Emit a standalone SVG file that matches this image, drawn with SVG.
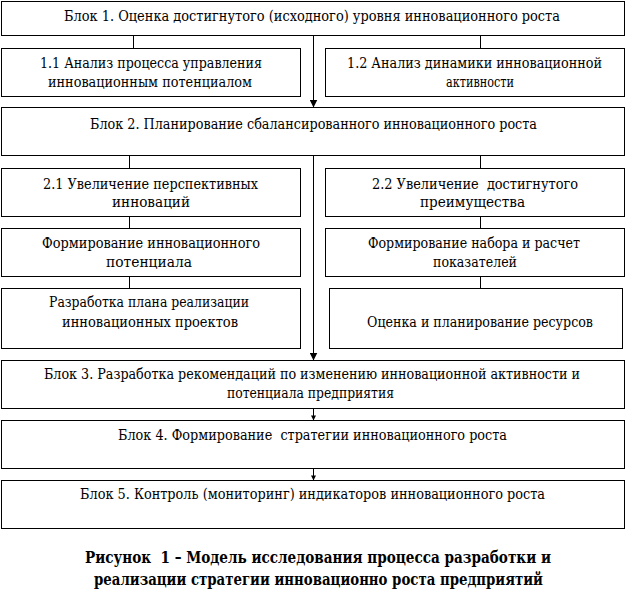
<svg xmlns="http://www.w3.org/2000/svg" width="630" height="593" viewBox="0 0 630 593">
<defs>
<style>
.box{fill:#fff;stroke:#000;stroke-width:1}
.t{font-family:"DejaVu Serif Condensed","DejaVu Serif","Liberation Serif",serif;font-stretch:condensed;font-size:14px;fill:#000;text-anchor:middle}
.cap{font-family:"DejaVu Serif Condensed","DejaVu Serif","Liberation Serif",serif;font-stretch:condensed;font-size:16px;font-weight:bold;fill:#000;text-anchor:middle}
.ln{stroke:#000;stroke-width:1;fill:none}
</style>
<marker id="ah" viewBox="0 0 8 8" refX="8" refY="4" markerWidth="8" markerHeight="8" markerUnits="userSpaceOnUse" orient="auto">
<path d="M0,0 L8,4 L0,8 Z" fill="#000"/>
</marker>
<marker id="ahs" viewBox="0 0 6 6" refX="6" refY="3" markerWidth="6" markerHeight="5" markerUnits="userSpaceOnUse" orient="auto">
<path d="M0,0 L6,3 L0,6 Z" fill="#000"/>
</marker>
</defs>
<rect width="630" height="593" fill="#fff"/>
<g id="connectors">
<line class="ln" x1="313.5" y1="35.5" x2="313.5" y2="107.5" marker-end="url(#ah)"/>
<line class="ln" x1="133.5" y1="35.5" x2="133.5" y2="48.5"/>
<line class="ln" x1="480.5" y1="35.5" x2="480.5" y2="48.5"/>
<line class="ln" x1="313.5" y1="155.5" x2="313.5" y2="360.5" marker-end="url(#ah)"/>
<line class="ln" x1="129.5" y1="155.5" x2="129.5" y2="168.5"/>
<line class="ln" x1="480.5" y1="155.5" x2="480.5" y2="168.5"/>
<line class="ln" x1="129.5" y1="216.5" x2="129.5" y2="228.5"/>
<line class="ln" x1="480.5" y1="216.5" x2="480.5" y2="228.5"/>
<line class="ln" x1="129.5" y1="276.5" x2="129.5" y2="288.5"/>
<line class="ln" x1="480.5" y1="276.5" x2="480.5" y2="288.5"/>
<line class="ln" x1="313.5" y1="408.5" x2="313.5" y2="420.5" marker-end="url(#ahs)"/>
<line class="ln" x1="313.5" y1="468.5" x2="313.5" y2="480.5" marker-end="url(#ahs)"/>
</g>
<g id="block1">
<rect class="box" x="1.5" y="1.5" width="623" height="34"/>
<text class="t" x="312" y="21" textLength="496" lengthAdjust="spacingAndGlyphs">Блок 1. Оценка достигнутого (исходного) уровня инновационного роста</text>
</g>
<g id="box11">
<rect class="box" x="1.5" y="48.5" width="299" height="48"/>
<text class="t" x="151" y="68" textLength="222" lengthAdjust="spacingAndGlyphs">1.1 Анализ процесса управления</text>
<text class="t" x="150" y="87" textLength="204" lengthAdjust="spacingAndGlyphs">инновационным потенциалом</text>
</g>
<g id="box12">
<rect class="box" x="325.5" y="48.5" width="299" height="48"/>
<text class="t" x="474.5" y="68" textLength="255" lengthAdjust="spacingAndGlyphs">1.2 Анализ динамики инновационной</text>
<text class="t" x="480" y="87" textLength="68" lengthAdjust="spacingAndGlyphs">активности</text>
</g>
<g id="block2">
<rect class="box" x="1.5" y="107.5" width="623" height="48"/>
<text class="t" x="313.5" y="129" textLength="447" lengthAdjust="spacingAndGlyphs">Блок 2. Планирование сбалансированного инновационного роста</text>
</g>
<g id="box21">
<rect class="box" x="1.5" y="168.5" width="299" height="48"/>
<text class="t" x="150.5" y="189" textLength="215" lengthAdjust="spacingAndGlyphs">2.1 Увеличение перспективных</text>
<text class="t" x="151" y="207" textLength="78" lengthAdjust="spacingAndGlyphs">инноваций</text>
</g>
<g id="box22">
<rect class="box" x="325.5" y="168.5" width="299" height="48"/>
<text class="t" x="475" y="189" xml:space="preserve" textLength="206" lengthAdjust="spacingAndGlyphs">2.2 Увеличение  достигнутого</text>
<text class="t" x="472.5" y="207" textLength="105" lengthAdjust="spacingAndGlyphs">преимущества</text>
</g>
<g id="box_form_pot">
<rect class="box" x="1.5" y="228.5" width="299" height="48"/>
<text class="t" x="151" y="248" textLength="218" lengthAdjust="spacingAndGlyphs">Формирование инновационного</text>
<text class="t" x="149" y="267" textLength="86" lengthAdjust="spacingAndGlyphs">потенциала</text>
</g>
<g id="box_form_nab">
<rect class="box" x="325.5" y="228.5" width="299" height="48"/>
<text class="t" x="474" y="248" textLength="212" lengthAdjust="spacingAndGlyphs">Формирование набора и расчет</text>
<text class="t" x="475" y="267" textLength="84" lengthAdjust="spacingAndGlyphs">показателей</text>
</g>
<g id="box_razr">
<rect class="box" x="1.5" y="288.5" width="299" height="60"/>
<text class="t" x="149" y="307" textLength="200" lengthAdjust="spacingAndGlyphs">Разработка плана реализации</text>
<text class="t" x="150" y="327" textLength="176" lengthAdjust="spacingAndGlyphs">инновационных проектов</text>
</g>
<g id="box_ocenka">
<rect class="box" x="329.5" y="288.5" width="293" height="60"/>
<text class="t" x="480" y="327" textLength="226" lengthAdjust="spacingAndGlyphs">Оценка и планирование ресурсов</text>
</g>
<g id="block3">
<rect class="box" x="1.5" y="360.5" width="623" height="48"/>
<text class="t" x="312" y="379" textLength="536" lengthAdjust="spacingAndGlyphs">Блок 3. Разработка рекомендаций по изменению инновационной активности и</text>
<text class="t" x="310.5" y="398" textLength="167" lengthAdjust="spacingAndGlyphs">потенциала предприятия</text>
</g>
<g id="block4">
<rect class="box" x="1.5" y="420.5" width="623" height="48"/>
<text class="t" x="312.5" y="440" xml:space="preserve" textLength="389" lengthAdjust="spacingAndGlyphs">Блок 4. Формирование  стратегии инновационного роста</text>
</g>
<g id="block5">
<rect class="box" x="1.5" y="480.5" width="623" height="48"/>
<text class="t" x="312.5" y="499" textLength="465" lengthAdjust="spacingAndGlyphs">Блок 5. Контроль (мониторинг) индикаторов инновационного роста</text>
</g>
<g id="caption">
<text class="cap" x="318" y="563" xml:space="preserve" textLength="466" lengthAdjust="spacingAndGlyphs">Рисунок  1 – Модель исследования процесса разработки и</text>
<text class="cap" x="318.5" y="585" textLength="449" lengthAdjust="spacingAndGlyphs">реализации стратегии инновационно роста предприятий</text>
</g>
</svg>
